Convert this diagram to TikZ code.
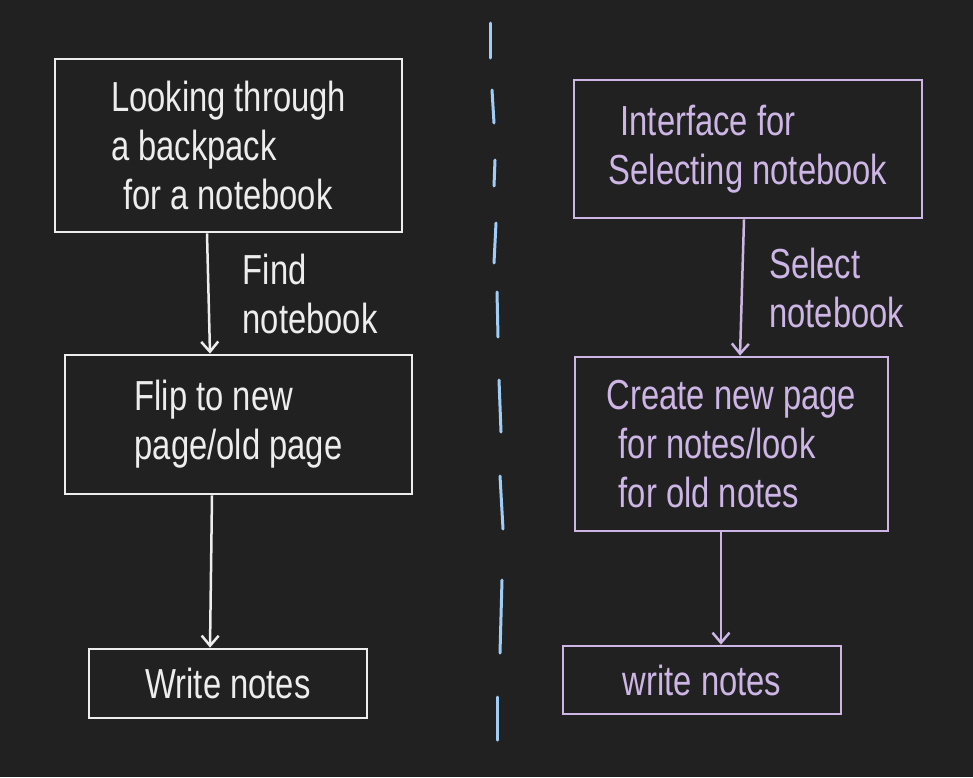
\documentclass[tikz,border=0pt]{standalone}
\usepackage{fontspec}
\setmainfont{Liberation Sans}[FakeStretch=0.78]
\usetikzlibrary{arrows.meta,calc}
\definecolor{bg}{HTML}{212121}
\definecolor{chalk}{HTML}{EDEDED}
\definecolor{lilac}{HTML}{CDB6E6}
\definecolor{sky}{HTML}{A0CDF5}
\begin{document}
\begin{tikzpicture}[x=1pt,y=-1pt,
  hand/.style={font=\fontsize{42}{49}\selectfont},
  wbox/.style={draw=chalk, line width=2.8pt, hand, text=chalk, align=left, inner sep=0pt},
  pbox/.style={draw=lilac, line width=2.8pt, hand, text=lilac, align=left, inner sep=0pt},
  warr/.style={draw=chalk, line width=2.5pt, -{Straight Barb[length=10pt,width=17pt,line width=2.5pt]}},
  parr/.style={draw=lilac, line width=2.5pt, -{Straight Barb[length=10pt,width=17pt,line width=2.5pt]}},
  wlbl/.style={hand, text=chalk, align=left, inner sep=0pt, anchor=west},
  plbl/.style={hand, text=lilac, align=left, inner sep=0pt, anchor=west},
  divdash/.style={draw=sky, line width=3pt, line cap=round}]
\fill[bg] (0,0) rectangle (973,777);
\useasboundingbox (0,0) rectangle (973,777);

% left column
\node[wbox, minimum width=347pt, minimum height=173pt] (l1) at (228.5,145.5)
  {Looking through\\a backpack\\\hspace{12pt}for a notebook};
\node[wbox, minimum width=347pt, minimum height=139pt] (l2) at (238.5,424.5)
  {Flip to new\\page/old page};
\node[wbox, minimum width=278pt, minimum height=69pt] (l3) at (228,683.5)
  {Write notes};

\draw[warr] ([xshift=-21.5pt]l1.south) -- node[wlbl, xshift=33pt] {Find\\notebook} ([xshift=-28.5pt]l2.north);
\draw[warr] ([xshift=-26.5pt]l2.south) -- ([xshift=-18pt]l3.north);

% right column
\node[pbox, minimum width=348pt, minimum height=138pt] (r1) at (748,149)
  {\hspace{12pt}Interface for\\Selecting notebook};
\node[pbox, minimum width=313pt, minimum height=174pt] (r2) at (731.5,444)
  {Create new page\\\hspace{12pt}for notes/look\\\hspace{12pt}for old notes};
\node[pbox, minimum width=278pt, minimum height=68pt] (r3) at (702,680)
  {write notes};

\draw[parr] ([xshift=-4pt]r1.south) -- node[plbl, xshift=26pt] {Select\\notebook} ([xshift=8.5pt]r2.north);
\draw[parr] ([xshift=-10.5pt]r2.south) -- ([xshift=19pt]r3.north);

% divider
\draw[divdash] (490,23) -- (490,58);
\draw[divdash] (492,90) -- (494,123);
\draw[divdash] (495,160) -- (494,186);
\draw[divdash] (496,223) -- (494,263);
\draw[divdash] (497,292) -- (498,337);
\draw[divdash] (499,380) -- (501,432);
\draw[divdash] (500,476) -- (503,529);
\draw[divdash] (502,580) -- (500,653);
\draw[divdash] (497,697) -- (497,740);
\end{tikzpicture}
\end{document}
